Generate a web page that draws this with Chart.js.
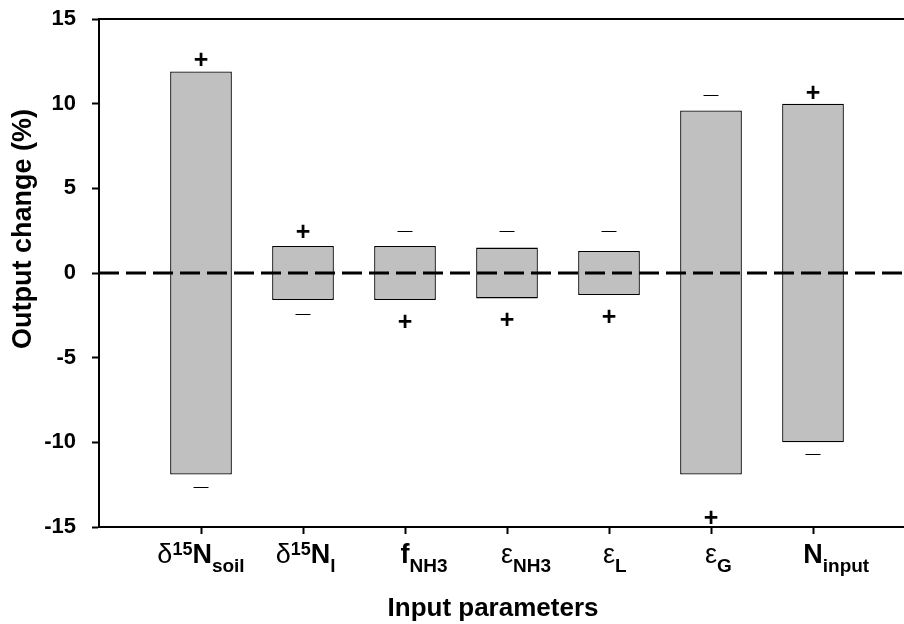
<!DOCTYPE html>
<html>
<head>
<meta charset="utf-8">
<title>Output change by input parameter</title>
<script src="https://cdn.jsdelivr.net/npm/chart.js@4"></script>
<style>
    html, body { margin: 0; padding: 0; background: #fff; overflow: hidden; }
    #wrap { width: 904px; height: 624px; overflow: hidden; }
    canvas { display: block; }
</style>
</head>
<body>
<div id="wrap"><canvas id="sensChart" width="915" height="624"></canvas></div>
<script>
// Sensitivity of the model output to each input parameter

const categories = ['δ15Nsoil', 'δ15Nl', 'fNH3', 'εNH3', 'εL', 'εG', 'Ninput'];

// label pieces: [text, style]
const categoryParts = [
    [['δ', 'greek'], ['15', 'sup'], ['N', 'main'], ['soil', 'sub']],
    [['δ', 'greek'], ['15', 'sup'], ['N', 'main'], ['l', 'sub']],
    [['f', 'main'], ['NH3', 'sub']],
    [['ε', 'greek'], ['NH3', 'sub']],
    [['ε', 'greek'], ['L', 'sub']],
    [['ε', 'greek'], ['G', 'sub']],
    [['N', 'main'], ['input', 'sub']]
];

const lowValues = [-11.9, -1.6, -1.6, -1.5, -1.3, -11.9, -10.0];
const highValues = [11.9, 1.6, 1.6, 1.5, 1.3, 9.6, 10.0];

const topSigns = ['+', '+', '−', '−', '−', '−', '+'];
const topSignValues = [12.6, 2.4, 2.5, 2.5, 2.5, 10.5, 10.6];
const bottomSigns = ['−', '−', '+', '+', '+', '+', '−'];
const bottomSignValues = [-12.6, -2.4, -2.9, -2.8, -2.6, -14.5, -10.7];

const yTicks = [-15, -10, -5, 0, 5, 10, 15];

const xTitle = 'Input parameters';
const yTitle = 'Output change (%)';

(function() {
    'use strict';

    const FONT = 'Arial, "Liberation Sans", sans-serif';

    const partFonts = {
        greek: 'normal 27px ' + FONT,
        main: 'bold 27px ' + FONT,
        sup: 'bold 18px ' + FONT,
        sub: 'bold 19px ' + FONT
    };
    // baseline offsets below the x axis line
    const partBase = { greek: 36, main: 36, sup: 28, sub: 45 };

    const decorations = {
        id: 'decorations',
        afterDatasetsDraw(chart) {
            const ctx = chart.ctx;
            const area = chart.chartArea;
            const x = chart.scales.x;
            const y = chart.scales.y;

            ctx.save();
            // frame top
            ctx.strokeStyle = '#000';
            ctx.lineWidth = 2;
            ctx.beginPath();
            ctx.moveTo(area.left - 1, area.top);
            ctx.lineTo(area.right, area.top);
            ctx.moveTo(area.right - 1, area.top);
            ctx.lineTo(area.right - 1, area.bottom);
            ctx.stroke();

            // dashed zero line
            const y0 = y.getPixelForValue(0);
            ctx.lineWidth = 3;
            ctx.setLineDash([20, 7]);
            ctx.beginPath();
            ctx.moveTo(area.left, y0);
            ctx.lineTo(area.right, y0);
            ctx.stroke();
            ctx.setLineDash([]);

            // +/- markers
            ctx.fillStyle = '#000';
            ctx.textAlign = 'center';
            ctx.textBaseline = 'middle';
            categories.forEach((c, i) => {
                const px = x.getPixelForValue(i + 1);
                drawSign(ctx, topSigns[i], px, y.getPixelForValue(topSignValues[i]));
                drawSign(ctx, bottomSigns[i], px, y.getPixelForValue(bottomSignValues[i]));
            });
            ctx.restore();
        },
        afterDraw(chart) {
            const ctx = chart.ctx;
            const area = chart.chartArea;
            const x = chart.scales.x;

            ctx.save();
            ctx.fillStyle = '#000';
            ctx.textBaseline = 'alphabetic';
            ctx.textAlign = 'left';

            // category labels with sub/superscripts, long ones centred as a whole
            categoryParts.forEach((parts, i) => {
                const px = x.getPixelForValue(i + 1);
                let headW = 0;
                let fullW = 0;
                parts.forEach(p => {
                    ctx.font = partFonts[p[1]];
                    const w = ctx.measureText(p[0]).width;
                    fullW += w;
                    if (p[1] !== 'sub') headW += w;
                });
                let cx = parts.length > 3 && fullW > 70 ? px - fullW / 2 : px - headW / 2;
                parts.forEach(p => {
                    ctx.font = partFonts[p[1]];
                    ctx.fillText(p[0], cx, area.bottom + partBase[p[1]]);
                    cx += ctx.measureText(p[0]).width;
                });
            });

            // axis titles
            ctx.font = 'bold 26px ' + FONT;
            ctx.textAlign = 'center';
            ctx.textBaseline = 'middle';
            ctx.fillText(xTitle, 493, 609);

            ctx.font = 'bold 27px ' + FONT;
            ctx.translate(24, 229);
            ctx.rotate(-Math.PI / 2);
            ctx.fillText(yTitle, 0, 0);
            ctx.restore();
        }
    };

    function drawSign(ctx, sign, px, py) {
        if (sign === '+') {
            ctx.font = 'bold 25px ' + FONT;
            ctx.fillText(sign, px, py + 1);
        } else {
            ctx.font = 'normal 15px ' + FONT;
            ctx.fillText('—', px, py);
        }
    }

    function init() {
        const canvas = document.getElementById('sensChart');

        new Chart(canvas, {
            type: 'bar',
            data: {
                datasets: [{
                    label: 'Output change',
                    data: categories.map((c, i) => ({ x: i + 1, y: [lowValues[i], highValues[i]] })),
                    backgroundColor: '#c0c0c0',
                    borderColor: '#000',
                    borderWidth: 1.3,
                    borderSkipped: false,
                    barPercentage: 0.605,
                    categoryPercentage: 1
                }]
            },
            options: {
                responsive: false,
                devicePixelRatio: 1,
                animation: false,
                layout: { padding: { top: 19, right: 0, bottom: 0, left: 0 } },
                plugins: {
                    legend: { display: false },
                    tooltip: { enabled: false }
                },
                scales: {
                    x: {
                        type: 'linear',
                        min: 0,
                        max: 8,
                        offset: false,
                        afterBuildTicks: scale => {
                            scale.ticks = categories.map((c, i) => ({ value: i + 1 }));
                        },
                        afterFit: scale => {
                            scale.height = 97;
                            scale.paddingLeft = 0;
                            scale.paddingRight = 0;
                        },
                        ticks: { display: false },
                        grid: {
                            offset: false,
                            drawOnChartArea: false,
                            drawTicks: true,
                            tickLength: 7,
                            tickWidth: 2,
                            tickColor: '#000'
                        },
                        border: { display: true, color: '#000', width: 2 }
                    },
                    y: {
                        min: -15,
                        max: 15,
                        afterBuildTicks: scale => {
                            scale.ticks = yTicks.map(v => ({ value: v }));
                        },
                        afterFit: scale => {
                            scale.width = 99;
                            scale.paddingTop = 0;
                            scale.paddingBottom = 0;
                        },
                        ticks: {
                            color: '#000',
                            padding: 16,
                            font: { family: FONT, size: 22, weight: 'bold' }
                        },
                        grid: {
                            drawOnChartArea: false,
                            drawTicks: true,
                            tickLength: 7,
                            tickWidth: 2,
                            tickColor: '#000'
                        },
                        border: { display: true, color: '#000', width: 2 }
                    }
                }
            },
            plugins: [decorations]
        });
    }

    if (document.readyState === 'loading') {
        document.addEventListener('DOMContentLoaded', init);
    } else {
        init();
    }
})();
</script>
</body>
</html>
